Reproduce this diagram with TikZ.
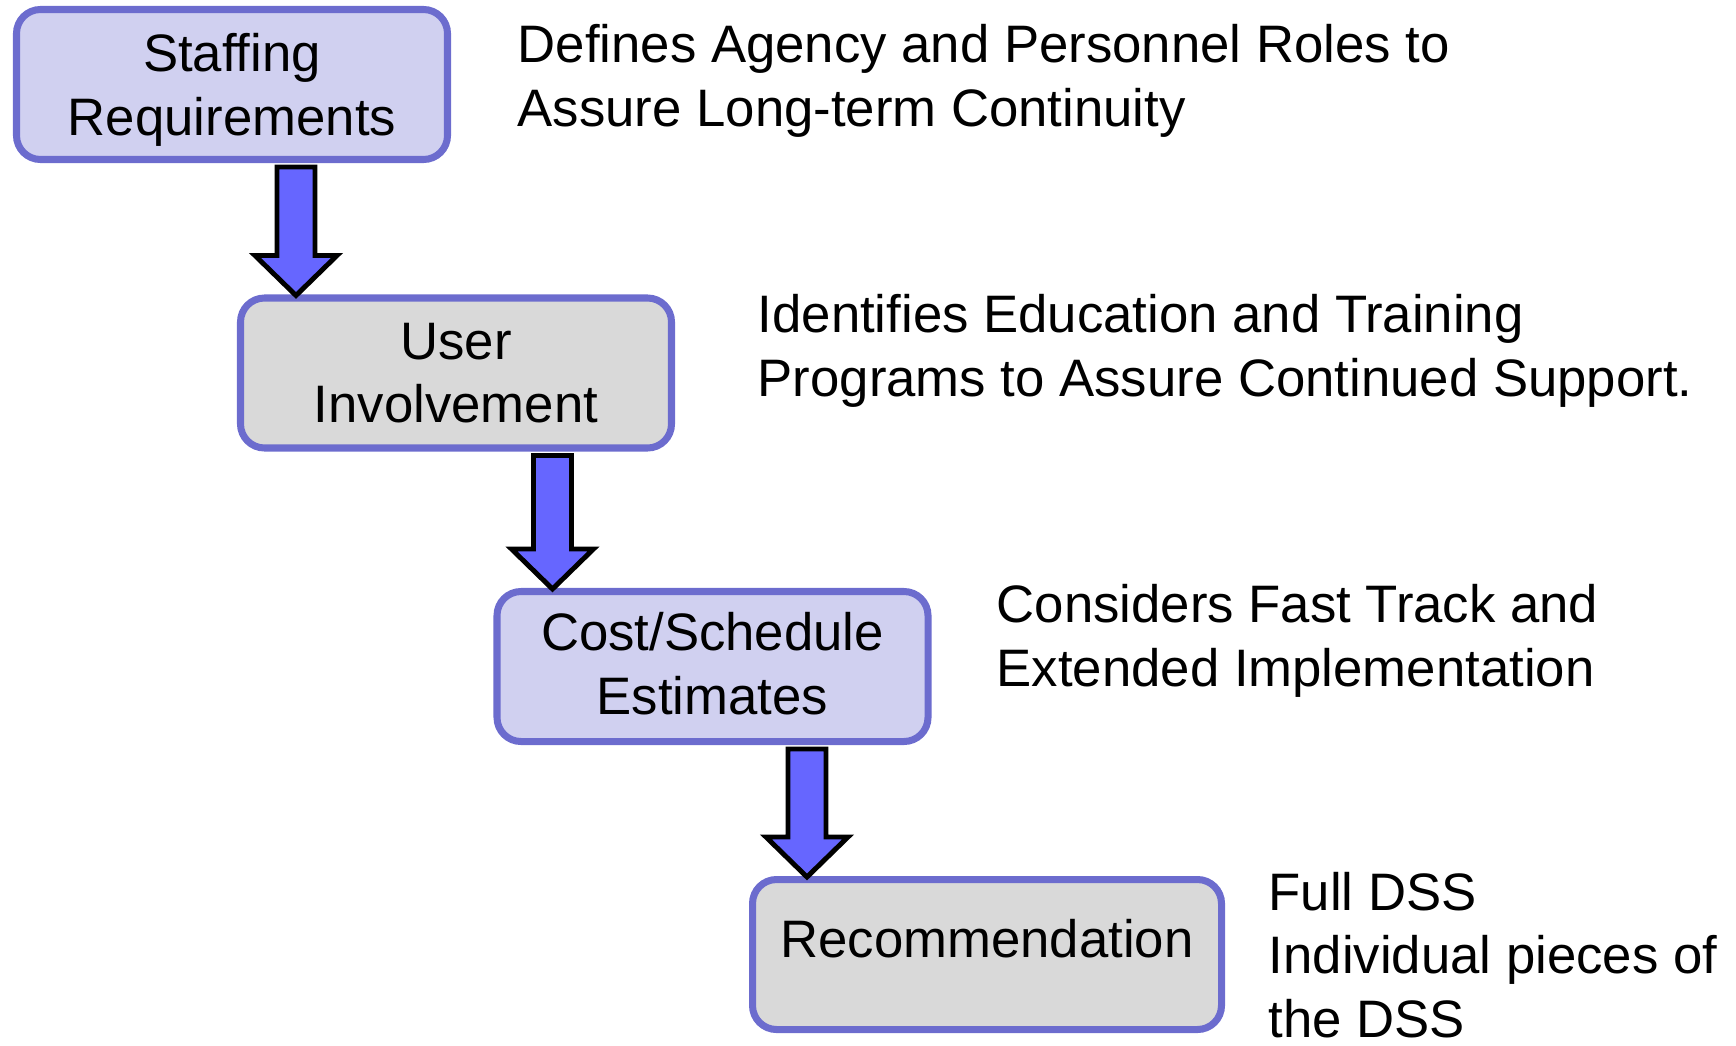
\documentclass[tikz,border=0pt]{standalone}
\usepackage{fontspec}
\setmainfont{Liberation Sans}
\usetikzlibrary{calc, positioning}
\usepackage{color}
\definecolor{boxline}{RGB}{108,108,206}
\definecolor{boxblue}{RGB}{208,208,240}
\definecolor{boxgray}{RGB}{217,217,217}
\definecolor{arrowblue}{RGB}{102,102,255}
\tikzset{>=stealth, font=\fontsize{15}{18}\selectfont}

\begin{document}
\begin{tikzpicture}[line join=miter]
\tikzstyle{stage}=[draw=boxline,line width=2pt,rounded corners=0.24cm,
                   minimum width=4.31cm,minimum height=1.5cm,align=center,inner sep=0pt]
\tikzstyle{note}=[align=left,anchor=base west,inner sep=0pt]
\tikzstyle{flow}=[draw=black,fill=arrowblue,line width=1.4pt]

\useasboundingbox (0,0) rectangle (17.36,-10.45);

\node[stage,fill=boxblue,text depth=0cm] (S) at (2.32,-0.845) {Staffing\\Requirements};
\node[stage,fill=boxgray] (U) at (4.56,-3.73) {User\\Involvement};
\node[stage,fill=boxblue,text depth=0.06cm] (C) at (7.125,-6.665) {Cost/Schedule\\Estimates};
\node[stage,fill=boxgray,minimum width=4.69cm,text depth=0.33cm] (R) at (9.87,-9.545) {Recommendation};

\node[note] (s) at (5.17,-1.26)  {Defines Agency and Personnel Roles to\\Assure Long-term Continuity};
\node[note] (u) at (7.57,-3.96)  {Identifies Education and Training\\Programs to Assure Continued Support.};
\node[note] (c) at (9.96,-6.86)  {Considers Fast Track and\\Extended Implementation};
\node[note] (r) at (12.68,-10.37) {Full DSS\\Individual pieces of\\the DSS};

% block arrows between the stages
\draw[flow] let \p1=(S.south), \p2=([xshift=5.9mm]U.north west) in
  (\x2-1.9mm,\y1-0.4mm) -- (\x2+1.9mm,\y1-0.4mm) -- (\x2+1.9mm,\y2+3.9mm) -- (\x2+4.1mm,\y2+3.9mm)
  -- (\x2,\y2-0.1mm) -- (\x2-4.1mm,\y2+3.9mm) -- (\x2-1.9mm,\y2+3.9mm) -- cycle;
\draw[flow] let \p1=(U.south), \p2=([xshift=5.9mm]C.north west) in
  (\x2-1.9mm,\y1-0.4mm) -- (\x2+1.9mm,\y1-0.4mm) -- (\x2+1.9mm,\y2+3.9mm) -- (\x2+4.1mm,\y2+3.9mm)
  -- (\x2,\y2-0.1mm) -- (\x2-4.1mm,\y2+3.9mm) -- (\x2-1.9mm,\y2+3.9mm) -- cycle;
\draw[flow] let \p1=(C.south), \p2=([xshift=5.8mm]R.north west) in
  (\x2-1.9mm,\y1-0.4mm) -- (\x2+1.9mm,\y1-0.4mm) -- (\x2+1.9mm,\y2+3.9mm) -- (\x2+4.1mm,\y2+3.9mm)
  -- (\x2,\y2-0.1mm) -- (\x2-4.1mm,\y2+3.9mm) -- (\x2-1.9mm,\y2+3.9mm) -- cycle;

\end{tikzpicture}
\end{document}
